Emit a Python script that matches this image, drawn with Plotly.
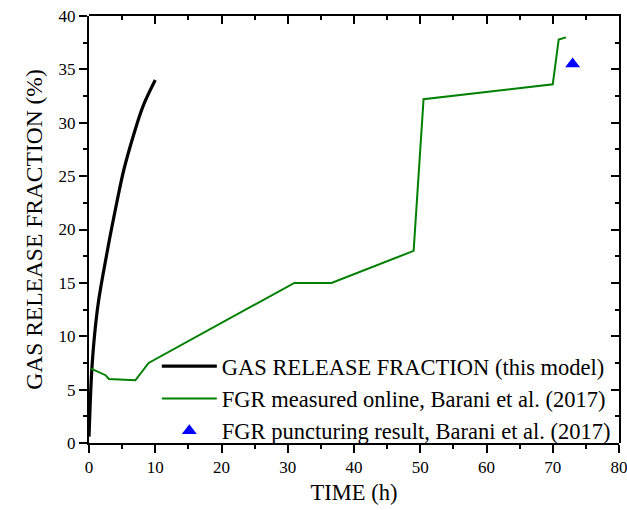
import plotly.graph_objects as go

# Model curve (this model)
model_t = [0.0, 0.2, 0.45, 0.86, 1.46, 2.62, 3.38, 4.3, 5.24, 6.64, 8.15, 10.0]
model_y = [0.6, 4.0, 7.1, 10.25, 13.37, 17.5, 20.0, 22.85, 25.55, 28.67, 31.54, 34.0]

# FGR measured online, Barani et al. (2017)
meas_t = [0.3, 2.5, 3.0, 7.0, 9.0, 31.0, 36.6, 49.0, 50.5, 70.0, 70.9, 72.0]
meas_y = [6.97, 6.35, 6.0, 5.87, 7.5, 15.0, 15.0, 18.0, 32.2, 33.6, 37.8, 38.0]

# FGR puncturing result, Barani et al. (2017)
punct_t = [73.0]
punct_y = [35.5]

# tick labels
x_ticks = [0, 10, 20, 30, 40, 50, 60, 70, 80]
y_ticks = [0, 5, 10, 15, 20, 25, 30, 35, 40]

FONT = "Liberation Serif"

fig = go.Figure()
fig.add_trace(go.Scatter(x=model_t, y=model_y, mode="lines",
                         line=dict(color="black", width=3.2, shape="spline", smoothing=1.0),
                         name="GAS RELEASE FRACTION (this model)"))
fig.add_trace(go.Scatter(x=meas_t, y=meas_y, mode="lines",
                         line=dict(color="#008000", width=2),
                         name="FGR measured online, Barani et al. (2017)"))
fig.add_trace(go.Scatter(x=punct_t, y=punct_y, mode="markers",
                         marker=dict(symbol="triangle-up", color="#0000ff", size=13),
                         name="FGR puncturing result, Barani et al. (2017)",
                         xaxis="x2", yaxis="y2"))

axis_common = dict(showline=True, linecolor="black", linewidth=2, showgrid=False,
                   zeroline=False, ticklen=8, tickwidth=2, tickcolor="black",
                   automargin=False, domain=[0, 1])
tickfont = dict(family=FONT, size=17, color="black")

fig.update_layout(
    template="none",
    width=627, height=510,
    margin=dict(l=89, r=8, t=16, b=67),
    paper_bgcolor="white", plot_bgcolor="rgba(0,0,0,0)",
    font=dict(family=FONT, color="black", size=17),
    xaxis=dict(range=[0, 80], tickmode="array", tickvals=x_ticks,
               ticktext=[str(v) for v in x_ticks], ticks="outside", anchor="y",
               ticklabeloverflow="allow",
               minor=dict(dtick=5, tick0=0, ticks="outside", ticklen=4, tickwidth=2, tickcolor="black"),
               title=dict(text="TIME (h)", font=dict(family=FONT, size=22.5, color="black"), standoff=8),
               tickfont=tickfont, **axis_common),
    yaxis=dict(range=[0, 40], tickmode="array", tickvals=y_ticks,
               ticktext=[str(v) for v in y_ticks], ticks="outside", anchor="x",
               ticklabeloverflow="allow",
               minor=dict(dtick=2.5, tick0=0, ticks="outside", ticklen=4, tickwidth=2, tickcolor="black"),
               title=dict(text="GAS RELEASE FRACTION (%)", font=dict(family=FONT, size=23.5, color="black"), standoff=9),
               tickfont=tickfont, **axis_common),
    xaxis2=dict(range=[0, 80], dtick=10, tick0=0, ticks="inside", side="top",
                anchor="y2", showticklabels=False,
                minor=dict(dtick=5, ticks="inside", ticklen=4, tickwidth=2, tickcolor="black"),
                **axis_common),
    yaxis2=dict(range=[0, 40], dtick=5, tick0=0, ticks="inside", side="right",
                anchor="x2", showticklabels=False,
                minor=dict(dtick=2.5, ticks="inside", ticklen=4, tickwidth=2, tickcolor="black"),
                **axis_common),
    legend=dict(x=0.994, y=0.104, xanchor="right", yanchor="middle",
                bgcolor="rgba(0,0,0,0)", font=dict(size=22.5, family=FONT, color="black"),
                itemwidth=55, tracegroupgap=0, borderwidth=0),
    showlegend=True,
)

fig.write_html("out.html", config={"displayModeBar": False},
               post_script="document.body.style.margin='0';document.body.style.padding='0';")
